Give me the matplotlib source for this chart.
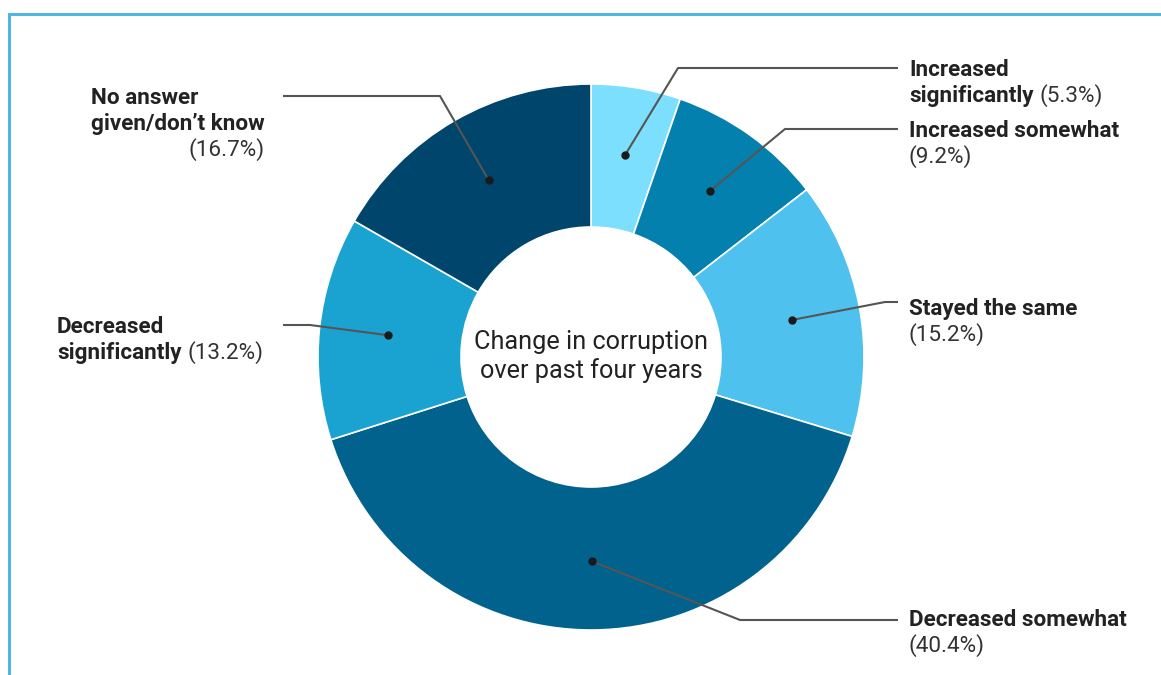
import matplotlib
matplotlib.use("Agg")
import matplotlib.pyplot as plt
import numpy as np

plt.rcParams["font.family"] = ["Roboto", "DejaVu Sans"]

categories = ["Increased significantly", "Increased somewhat", "Stayed the same",
              "Decreased somewhat", "Decreased significantly",
              "No answer given/don\u2019t know"]
shares = [5.3, 9.2, 15.2, 40.4, 13.2, 16.7]
colors = ["#7BDFFD", "#0380AD", "#4FC1EE", "#00628D", "#1AA3D0", "#00456C"]

# label lines: (bold lines, where the percentage goes)
label_lines = [
    (["Increased", "significantly"], "inline"),
    (["Increased somewhat"], "below"),
    (["Stayed the same"], "below"),
    (["Decreased somewhat"], "below"),
    (["Decreased", "significantly"], "inline"),
    (["No answer", "given/don\u2019t know"], "below_right"),
]

W, H = 1161, 675
CX, CY, R, R_IN = 591, 357, 273, 130
# leader layout in pixel coords (y down): elbow, line end, text x, first baseline
leaders = [
    ((678, 68), (898, 68), 909, 76),
    ((785, 129), (898, 129), 909, 137),
    ((885, 302), (898, 302), 909, 315),
    ((740, 620), (898, 620), 909, 626),
    ((310, 325), (283, 325), 57, 333),
    ((440, 96), (283, 96), 91, 104),
]
LINE_GAP = 26
BOLD = 16.2
ink = "#222222"

fig = plt.figure(figsize=(W / 100, H / 100), dpi=100)
ax = fig.add_axes([0, 0, 1, 1])


def fy(y):
    return H - y


wedges, _ = ax.pie(shares, colors=colors, startangle=90, counterclock=False,
                   radius=R, center=(CX, fy(CY)),
                   wedgeprops=dict(width=R - R_IN, edgecolor="white", linewidth=1.2))
# pie resets the limits, so set the pixel frame afterwards
ax.set_xlim(0, W)
ax.set_ylim(0, H)
ax.set_aspect("equal")
ax.axis("off")

ax.text(CX, fy(349), "Change in corruption", ha="center", va="baseline",
        fontsize=18.2, color=ink)
ax.text(CX, fy(378), "over past four years", ha="center", va="baseline",
        fontsize=18.2, color=ink)

fig.canvas.draw()
renderer = fig.canvas.get_renderer()

for w, share, (lines, mode), (elbow, end, tx, ty) in zip(wedges, shares, label_lines, leaders):
    ang = np.deg2rad((w.theta1 + w.theta2) / 2)
    rm = (R + R_IN) / 2 + 3
    dx, dy = CX + rm * np.cos(ang), fy(CY) + rm * np.sin(ang)
    ax.plot([dx, elbow[0], end[0]], [dy, fy(elbow[1]), fy(end[1])],
            color="#555555", lw=1.5, solid_capstyle="butt")
    ax.plot(dx, dy, "o", color="#1a1a1a", ms=5)

    pct = f"({share}%)"
    last = None
    for i, ln in enumerate(lines):
        last = ax.text(tx, fy(ty + i * LINE_GAP), ln, ha="left", va="baseline",
                       fontsize=BOLD, fontweight="bold", color=ink)
    n = len(lines)
    if mode == "inline":
        bb = last.get_window_extent(renderer)
        ax.text(bb.x1 + 6, fy(ty + (n - 1) * LINE_GAP), pct, ha="left", va="baseline",
                fontsize=BOLD, color="#333333")
    elif mode == "below":
        ax.text(tx, fy(ty + n * LINE_GAP), pct, ha="left", va="baseline",
                fontsize=BOLD, color="#333333")
    else:
        bb = last.get_window_extent(renderer)
        ax.text(bb.x1, fy(ty + n * LINE_GAP), pct, ha="right", va="baseline",
                fontsize=BOLD, color="#333333")

# frame edges along top and left
ax.plot([9, 9, W], [0, fy(14), fy(14)], color="#4DB8E8", lw=2.2,
        solid_joinstyle="miter", clip_on=False)

fig.savefig("out.png", dpi=100)
